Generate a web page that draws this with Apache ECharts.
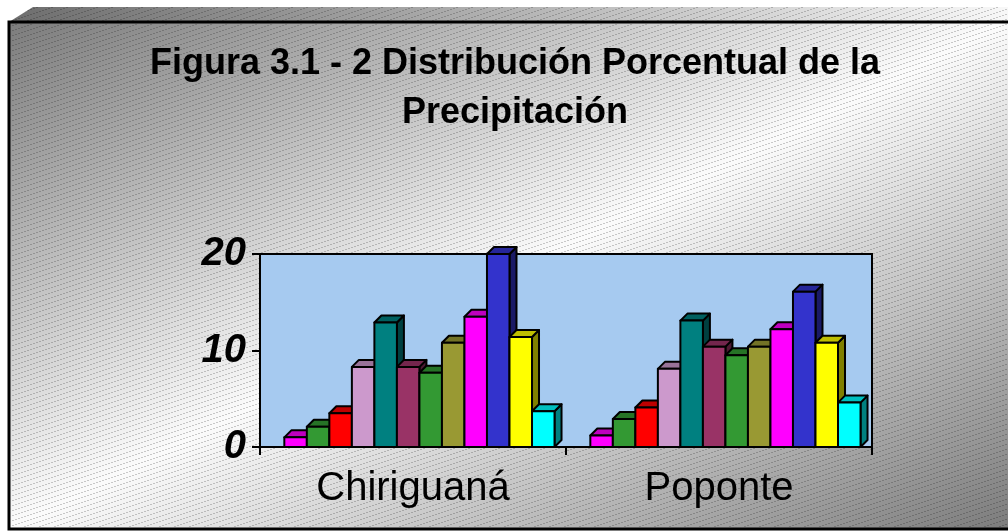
<!DOCTYPE html>
<html>
<head>
<meta charset="utf-8">
<script src="https://cdn.jsdelivr.net/npm/echarts@6/dist/echarts.min.js"></script>
<style>
html,body{margin:0;padding:0;background:#fff;}
#chart{width:1008px;height:531px;}
</style>
</head>
<body>
<div id="chart"></div>
<script>
const categories = ['Chiriguaná', 'Poponte'];
const months = ['Ene', 'Feb', 'Mar', 'Abr', 'May', 'Jun', 'Jul', 'Ago', 'Sep', 'Oct', 'Nov', 'Dic'];
const chiriguana = [1.0, 2.1, 3.5, 8.3, 12.9, 8.3, 7.7, 10.8, 13.5, 20.0, 11.4, 3.7];
const poponte = [1.2, 2.9, 4.1, 8.1, 13.1, 10.4, 9.5, 10.4, 12.2, 16.1, 10.8, 4.6];
const colors = ['#FF00FF', '#339933', '#FF0000', '#CC99CC', '#008080', '#993366',
                '#339933', '#999933', '#FF00FF', '#3333CC', '#FFFF00', '#00FFFF'];
const yTicks = [0, 10, 20];

function shade(hex, f) {
  const n = parseInt(hex.slice(1), 16);
  const r = Math.round(((n >> 16) & 255) * f);
  const g = Math.round(((n >> 8) & 255) * f);
  const b = Math.round((n & 255) * f);
  return 'rgb(' + r + ',' + g + ',' + b + ')';
}

// hatch pattern tile
const tile = document.createElement('canvas');
tile.width = 15; tile.height = 5;
const tctx = tile.getContext('2d');
tctx.fillStyle = 'rgba(0,0,0,0.2)';
for (let x = 0; x < 15; x++) {
  if (x % 3 === 2) continue;
  const y = 4 - Math.floor(x / 3);
  tctx.fillRect(x, y, 1, 1);
}

const chart = echarts.init(document.getElementById('chart'), null, {renderer: 'canvas'});

const series = months.map(function (m, i) {
  return {
    type: 'custom',
    name: m,
    data: [[0, chiriguana[i]], [1, poponte[i]]],
    encode: {x: 0, y: 1},
    renderItem: function (params, api) {
      const cat = api.value(0), v = api.value(1);
      const base = api.coord([cat, 0]);
      const top = api.coord([cat, v]);
      const cw = api.size([1, 0])[0];
      const bw = cw * 0.883 / 12;
      const start = base[0] - 6 * bw + cw * 0.021;
      const x0 = start + i * bw;
      const x1 = x0 + bw;
      const yt = top[1], yb = base[1];
      const d = 7;
      const c = colors[i];
      const st = {stroke: '#000', lineWidth: 2, lineJoin: 'round'};
      return {
        type: 'group',
        children: [
          {type: 'polygon', shape: {points: [[x1, yt], [x1 + d, yt - d], [x1 + d, yb - d], [x1, yb]]},
           style: Object.assign({fill: shade(c, 0.5)}, st)},
          {type: 'polygon', shape: {points: [[x0, yt], [x0 + d, yt - d], [x1 + d, yt - d], [x1, yt]]},
           style: Object.assign({fill: shade(c, 0.75)}, st)},
          {type: 'rect', shape: {x: x0, y: yt, width: bw, height: yb - yt},
           style: Object.assign({fill: c}, st)}
        ]
      };
    }
  };
});

const bgGrad = new echarts.graphic.LinearGradient(302, -128, 714, 680, [
  {offset: 0, color: '#7c7c7c'},
  {offset: 0.5, color: '#fbfbfb'},
  {offset: 1, color: '#7c7c7c'}
], true);

const option = {
  animation: false,
  backgroundColor: '#ffffff',
  title: {
    text: 'Figura 3.1 - 2 Distribución Porcentual de la\nPrecipitación',
    left: 510,
    top: 35,
    textAlign: 'center',
    textStyle: {
      fontFamily: 'Liberation Sans, Arial, sans-serif',
      fontSize: 36,
      fontWeight: 'bold',
      lineHeight: 49,
      color: '#000'
    }
  },
  graphic: [
    {type: 'polygon', z: -100, shape: {points: [[9, 22], [33, 7], [1010, 7], [1010, 22]]},
     style: {fill: new echarts.graphic.LinearGradient(0, 0, 1, 0, [
       {offset: 0, color: '#6e6e6e'}, {offset: 1, color: '#f8f8f8'}])}},
    {type: 'rect', z: -99, shape: {x: 9, y: 22, width: 1010, height: 507},
     style: {fill: bgGrad, stroke: '#000', lineWidth: 3}},
    {type: 'rect', z: -98, shape: {x: 11, y: 24, width: 1000, height: 503},
     style: {fill: {image: tile, repeat: 'repeat'}}},
    {type: 'polygon', z: -98, shape: {points: [[11, 21], [33, 7], [1010, 7], [1010, 21]]},
     style: {fill: {image: tile, repeat: 'repeat'}}}
  ],
  grid: {
    left: 260, right: 136, top: 254, bottom: 84,
    show: true,
    backgroundColor: '#A6CAF0',
    borderColor: '#000',
    borderWidth: 2
  },
  xAxis: {
    type: 'category',
    data: categories,
    boundaryGap: true,
    axisLine: {lineStyle: {color: '#000', width: 2}},
    axisTick: {show: true, length: 8, lineStyle: {color: '#000', width: 2}},
    axisLabel: {
      margin: 22,
      fontFamily: 'Liberation Sans, Arial, sans-serif',
      fontSize: 40,
      color: '#000'
    },
    splitLine: {show: false}
  },
  yAxis: {
    type: 'value',
    min: yTicks[0],
    max: yTicks[yTicks.length - 1],
    interval: 10,
    axisLine: {show: true, lineStyle: {color: '#000', width: 2}},
    axisTick: {show: true, length: 8, lineStyle: {color: '#000', width: 2}},
    axisLabel: {
      margin: 14,
      padding: [6, 0, 0, 0],
      fontFamily: 'Liberation Sans, Arial, sans-serif',
      fontSize: 40,
      fontWeight: 'bold',
      fontStyle: 'italic',
      color: '#000'
    },
    splitLine: {show: false}
  },
  series: series
};

chart.setOption(option);
</script>
</body>
</html>
